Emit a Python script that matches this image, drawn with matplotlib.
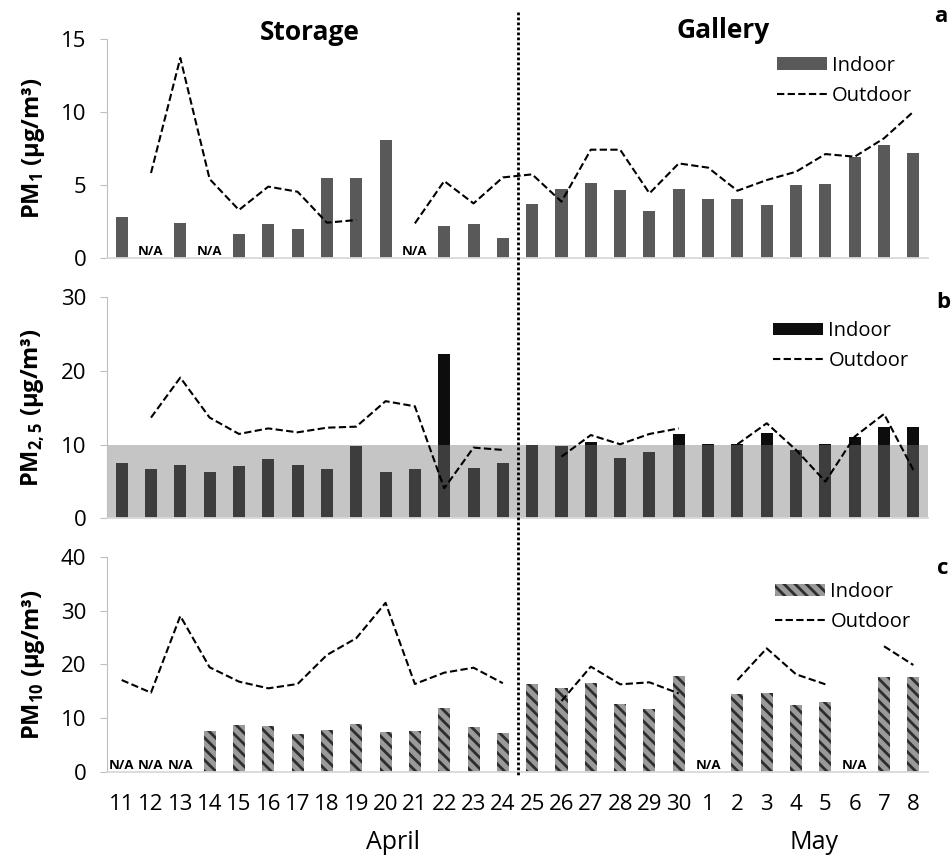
import numpy as np
import matplotlib
matplotlib.use('Agg')
import matplotlib.pyplot as plt
from matplotlib.lines import Line2D
from matplotlib.transforms import blended_transform_factory

plt.rcParams['font.family'] = ['Open Sans', 'DejaVu Sans']
plt.rcParams['mathtext.fontset'] = 'custom'
plt.rcParams['mathtext.rm'] = 'Open Sans'
plt.rcParams['mathtext.bf'] = 'Open Sans:bold'
plt.rcParams['hatch.linewidth'] = 2.0

nan = np.nan

days = ['11', '12', '13', '14', '15', '16', '17', '18', '19', '20', '21', '22', '23', '24',
        '25', '26', '27', '28', '29', '30', '1', '2', '3', '4', '5', '6', '7', '8']

pm1_in = [2.8, nan, 2.4, nan, 1.66, 2.33, 2.0, 5.46, 5.46, 8.1, nan, 2.17, 2.33, 1.39,
          3.72, 4.73, 5.14, 4.66, 3.24, 4.73, 4.04, 4.06, 3.63, 5.02, 5.09, 6.9, 7.72, 7.21]
pm1_out = [nan, 5.82, 13.7, 5.41, 3.29, 4.89, 4.54, 2.42, 2.6, nan, 2.37, 5.27, 3.74, 5.52,
           5.73, 3.86, 7.42, 7.42, 4.43, 6.48, 6.19, 4.61, 5.34, 5.91, 7.12, 6.94, 8.2, 10.02]

pm25_in = [7.56, 6.7, 7.24, 6.29, 7.06, 8.05, 7.24, 6.65, 9.86, 6.29, 6.74, 22.3, 6.88, 7.47,
           9.95, 9.86, 10.36, 8.14, 9.05, 11.45, 10.05, 10.05, 11.54, 9.28, 10.05, 11.0, 12.44, 12.35]
pm25_out = [nan, 13.67, 19.1, 13.67, 11.45, 12.2, 11.67, 12.3, 12.44, 15.9, 15.2, 4.07, 9.6, 9.28,
            nan, 8.37, 11.3, 10.05, 11.45, 12.2, nan, 10.05, 12.9, 9.28, 4.98, 11.09, 14.16, 6.56]
pm25_limit = 10

pm10_in = [nan, nan, nan, 7.52, 8.64, 8.46, 6.97, 7.77, 8.96, 7.34, 7.52, 11.94, 8.33, 7.28,
           16.3, 15.6, 16.6, 12.7, 11.7, 17.9, nan, 14.5, 14.68, 12.44, 12.94, nan, 17.6, 17.6]
pm10_out = [17.1, 14.74, 29.04, 19.47, 16.8, 15.55, 16.36, 21.77, 24.9, 31.5, 16.36, 18.47, 19.4, 16.5,
            nan, 13.18, 19.6, 16.3, 16.67, 14.6, nan, 17.1, 23.0, 18.16, 16.3, nan, 23.4, 19.9]

x = np.arange(len(days))

fig = plt.figure(figsize=(9.52, 8.56), dpi=100)
ax1 = fig.add_axes([0.1124, 0.6986, 0.8624, 0.2558])
ax2 = fig.add_axes([0.1124, 0.3945, 0.8624, 0.2582])
ax3 = fig.add_axes([0.1124, 0.0985, 0.8624, 0.2505])

bw = 0.41
dash = (0, (3.5, 1.6))


def style(ax, ymax, step, ylabel):
    ax.set_xlim(-0.5, len(days) - 0.5)
    ax.set_ylim(0, ymax)
    ax.set_yticks(np.arange(0, ymax + 1, step))
    ax.patch.set_alpha(0)
    for s in ['top', 'right']:
        ax.spines[s].set_visible(False)
    ax.spines['left'].set_color('#bfbfbf')
    ax.spines['bottom'].set_color('#d9d9d9')
    ax.spines['bottom'].set_linewidth(1.3)
    ax.tick_params(axis='y', length=5, color='#bfbfbf', labelsize=16, pad=10)
    ax.tick_params(axis='x', length=0)
    ax.set_ylabel(ylabel, fontsize=17, fontweight='bold', labelpad=10)


def na_labels(ax, vals):
    for i, v in enumerate(vals):
        if np.isnan(v):
            ax.text(i, 0, 'N/A', ha='center', va='bottom', fontsize=9.5,
                    fontweight='bold')


# PM1
style(ax1, 15, 5, r'PM$_\mathbf{1}$ (µg/m³)')
b1 = ax1.bar(x, pm1_in, bw, color='#595959')
l1, = ax1.plot(x, pm1_out, color='black', lw=1.5, linestyle=dash)
na_labels(ax1, pm1_in)
ax1.set_xticks([])

# PM2.5 with guideline band
style(ax2, 30, 10, r'PM$_\mathbf{2,5}$ (µg/m³)')
b2 = ax2.bar(x, pm25_in, bw, color='#0d0d0d')
ax2.axhspan(0, pm25_limit, color='#7c7c7c', alpha=0.44, lw=0, zorder=2.5)
l2, = ax2.plot(x, pm25_out, color='black', lw=1.5, linestyle=dash, zorder=3)
ax2.set_xticks([])

# PM10
style(ax3, 40, 10, r'PM$_\mathbf{10}$ (µg/m³)')
b3 = ax3.bar(x, pm10_in, bw, color='#9a9a9a', edgecolor='#2e2e2e', lw=0,
             hatch='\\\\\\')
l3, = ax3.plot(x, pm10_out, color='black', lw=1.5, linestyle=dash)
na_labels(ax3, pm10_in)
ax3.set_xticks(x)
ax3.set_xticklabels(days, fontsize=16)
ax3.tick_params(axis='x', pad=16)

for ax, bars, line, anchor in [(ax1, b1, l1, (0.816, 0.935)),
                               (ax2, b2, l2, (0.812, 0.625)),
                               (ax3, b3, l3, (0.814, 0.320))]:
    ax.legend([bars, line], ['Indoor', 'Outdoor'], loc='upper left', bbox_to_anchor=anchor,
              bbox_transform=fig.transFigure, frameon=False, fontsize=14.5,
              handlelength=2.5, handleheight=0.6, handletextpad=0.25,
              labelspacing=0.5, borderpad=0, borderaxespad=0)

# month labels below the day ticks
trans = blended_transform_factory(ax3.transData, fig.transFigure)
ax3.text(9.26, 0.016, 'April', transform=trans, ha='center', va='center', fontsize=18)
ax3.text(23.6, 0.016, 'May', transform=trans, ha='center', va='center', fontsize=18)

# storage / gallery split
trans_v = blended_transform_factory(ax1.transData, fig.transFigure)
fig.add_artist(Line2D([13.5, 13.5], [0.986, 0.0946], transform=trans_v, color='black',
                      lw=2, linestyle=(0, (1, 0.8))))
fig.text(310 / 952, 1 - 33 / 856, 'Storage', ha='center', va='center', fontsize=19, fontweight='bold')
fig.text(723 / 952, 1 - 31 / 856, 'Gallery', ha='center', va='center', fontsize=19, fontweight='bold')

for lab, (px, py) in [('a', (941, 17)), ('b', (943, 302)), ('c', (943, 568))]:
    fig.text(px / 952, 1 - py / 856, lab, ha='center', va='center', fontsize=16, fontweight='bold')

fig.savefig('out.png', dpi=100)
